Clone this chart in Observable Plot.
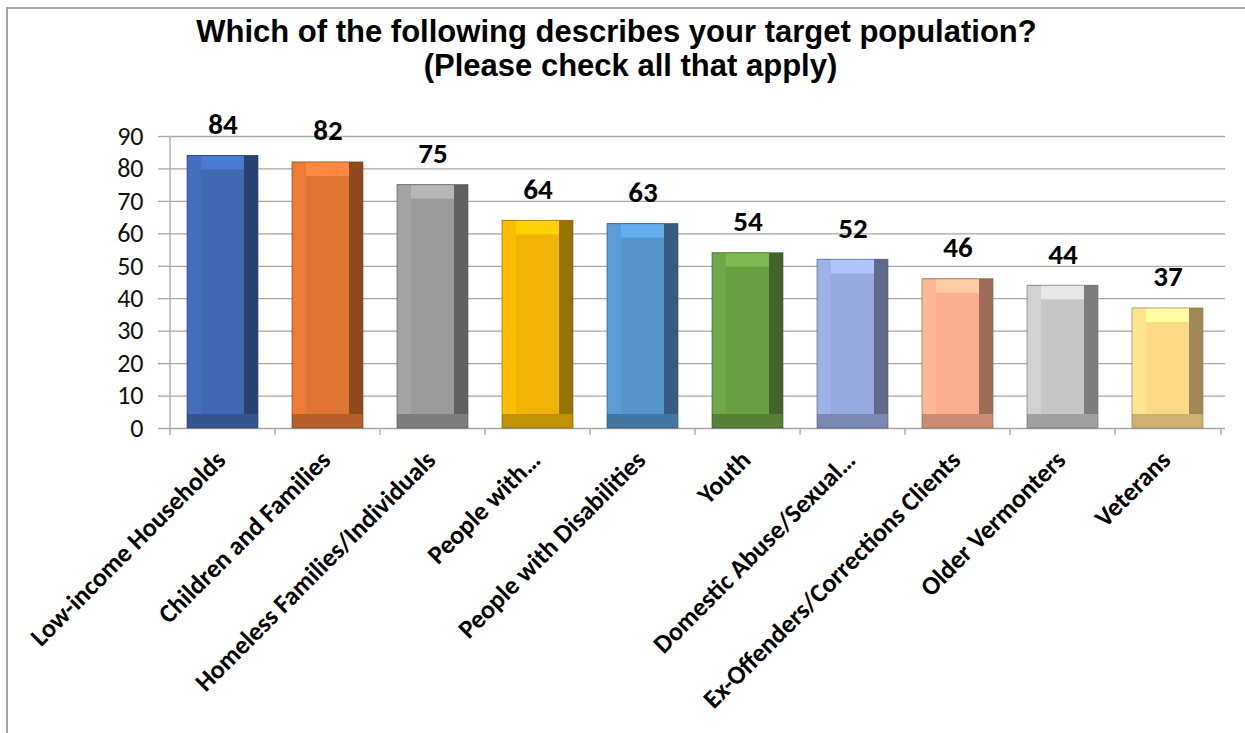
<!DOCTYPE html>
<html><head><meta charset="utf-8">
<script src="https://cdn.jsdelivr.net/npm/d3@7"></script>
<script src="https://cdn.jsdelivr.net/npm/@observablehq/plot@0.6"></script>
<style>
body{margin:0;background:#fff;}
#wrap{position:relative;width:1245px;height:733px;overflow:hidden;background:#fff;}
#frame{position:absolute;left:6px;top:7px;width:1400px;height:900px;border-left:2px solid #a6a6a6;border-top:2px solid #a6a6a6;pointer-events:none;}
#title{height:100px;box-sizing:border-box;padding-top:15px;font-family:"Liberation Sans",Arial,sans-serif;font-weight:bold;font-size:31px;line-height:34px;color:#000;text-align:center;}
#title div{position:relative;white-space:nowrap;}
</style></head><body>
<div id="wrap">
  <div id="frame"></div>
  <div id="title">
    <div style="left:-6px">Which of the following describes your target population?</div>
    <div style="left:8px">(Please check all that apply)</div>
  </div>
  <div id="chart"></div>
</div>
<script>
const categories = ["Low-income Households","Children and Families","Homeless Families/Individuals","People with…","People with Disabilities","Youth","Domestic Abuse/Sexual…","Ex-Offenders/Corrections Clients","Older Vermonters","Veterans"];
const values = [84,82,75,64,63,54,52,46,44,37];
const colors = ["#4069B2","#E07533","#9B9B9B","#EEB304","#5694CB","#699F43","#97A9DC","#FBAE8F","#C6C6C6","#FFD98A"];
const yTicks = [0,10,20,30,40,50,60,70,80,90];

const W = 1245, H = 633, ML = 166, MR = 20, MT = 36, MB = 305;
const step = (W - ML - MR) / categories.length;
const bevel = 14;
const labelFont = "Carlito, Calibri, Lato, sans-serif";
const gridColor = "#a6a6a6";

const sh = (c, k) => (k >= 0 ? d3.color(c).brighter(k) : d3.color(c).darker(-k)).formatHex();
const data = categories.map((c, i) => ({
  category: c, value: values[i],
  base: colors[i],
  top: sh(colors[i], 0.45),
  left: sh(colors[i], 0.15),
  right: sh(colors[i], -1.3),
  bottom: sh(colors[i], -0.6),
  edge: sh(colors[i], -1.8)
}));

const bar = (fill, extra = {}) => Plot.barY(data, {x: "category", y: "value", fill, ...extra});

const chart = Plot.plot({
  width: W, height: H,
  marginLeft: ML, marginRight: MR, marginTop: MT, marginBottom: MB,
  style: {background: "transparent", fontFamily: labelFont},
  x: {domain: categories, paddingInner: 0.32, paddingOuter: 0.16, axis: null},
  y: {domain: [0, 90], axis: null},
  color: {type: "identity"},
  marks: [
    Plot.ruleY(yTicks, {stroke: gridColor, strokeWidth: 1.3}),
    Plot.axisY({ticks: yTicks, label: null, tickSize: 8, tickPadding: 15, stroke: gridColor, strokeWidth: 1.3, fill: "#111", fontSize: 26, fontFamily: labelFont}),
    Plot.ruleX([categories[0]], {dx: -step / 2, y1: 0, y2: 90, stroke: gridColor, strokeWidth: 1.3}),
    Plot.ruleX(categories, {dx: -step / 2, y1: 0, y2: 0, insetBottom: -7, stroke: gridColor, strokeWidth: 1.3}),
    Plot.ruleX([categories[categories.length - 1]], {dx: step / 2, y1: 0, y2: 0, insetBottom: -7, stroke: gridColor, strokeWidth: 1.3}),
    bar("bottom"),
    bar("right", {insetBottom: bevel}),
    bar("left", {insetBottom: bevel, insetRight: bevel}),
    bar("top", {insetBottom: bevel, insetRight: bevel, insetLeft: bevel}),
    bar("base", {insetBottom: bevel, insetRight: bevel, insetLeft: bevel, insetTop: bevel}),
    bar("none", {stroke: "edge", strokeWidth: 1, strokeOpacity: 0.6}),
    Plot.text(data, {x: "category", y: "value", text: d => String(d.value), lineAnchor: "bottom", dy: -22, fontSize: 29, fontWeight: "bold", fill: "#000", fontFamily: labelFont}),
    Plot.text(data, {x: "category", y: 0, text: "category", rotate: -45, textAnchor: "end", lineAnchor: "top", dx: -9, dy: 20, fontSize: 26, fontWeight: "bold", fill: "#000", fontFamily: labelFont})
  ]
});
document.getElementById("chart").appendChild(chart);
</script>
</body></html>
